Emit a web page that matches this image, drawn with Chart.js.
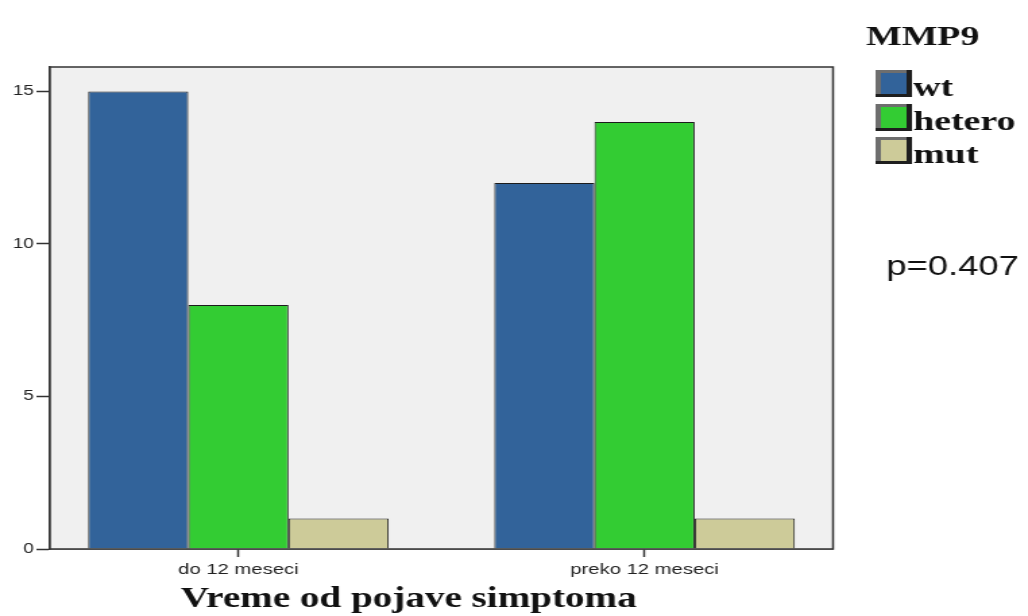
<!DOCTYPE html>
<html>
<head>
<meta charset="utf-8">
<script src="https://cdn.jsdelivr.net/npm/chart.js@4/dist/chart.umd.min.js"></script>
<style>
  html, body { margin: 0; padding: 0; background: #ffffff; overflow: hidden; }
  #wrap { width: 762px; height: 616px; transform: scaleX(1.349); transform-origin: 0 0; }
  #c { display: block; width: 762px; height: 616px; }
</style>
</head>
<body>
<div id="wrap"><canvas id="c" width="762" height="616"></canvas></div>
<script>
// Categories (time since symptom onset) and genotype counts
const categories = ['do 12 meseci', 'preko 12 meseci'];
const seriesNames = ['wt', 'hetero', 'mut'];
const wtValues = [15, 12];
const heteroValues = [8, 14];
const mutValues = [1, 1];
const yTicks = [0, 5, 10, 15];

const legendTitle = 'MMP9';
const axisTitle = 'Vreme od pojave simptoma';
const pValueText = 'p=0.407';

const colors = ['#32639a', '#33cc33', '#cdcb99'];
const edge = '#1c1c1c';

const toPoints = vals => vals.map((v, i) => ({ x: i, y: v }));

// Plot-area background and frame, plus legend, axis title and p-value
const decorations = {
  id: 'decorations',
  beforeDatasetsDraw(chart) {
    const { ctx, chartArea: a } = chart;
    ctx.save();
    ctx.fillStyle = '#f0f0f0';
    ctx.fillRect(a.left, a.top, a.right - a.left, a.bottom - a.top);
    ctx.restore();
  },
  afterDatasetsDraw(chart) {
    const { ctx, chartArea: a } = chart;
    ctx.save();
    ctx.strokeStyle = '#333333';
    ctx.lineWidth = 1.5;
    ctx.strokeRect(a.left, a.top, a.right - a.left, a.bottom - a.top);
    ctx.restore();
  },
  afterDraw(chart) {
    const { ctx } = chart;
    ctx.save();
    ctx.fillStyle = '#111111';
    ctx.textBaseline = 'alphabetic';

    // axis title
    ctx.font = 'bold 29px "Liberation Serif", "Times New Roman", serif';
    ctx.textAlign = 'center';
    ctx.fillText(axisTitle, 303, 607);

    // legend
    ctx.textAlign = 'left';
    ctx.font = 'bold 28px "Liberation Serif", "Times New Roman", serif';
    ctx.fillText(legendTitle, 642, 45);
    const boxX = 649, boxW = 27, boxH = 27;
    const rowTop = [70, 104, 137];
    chart.data.datasets.forEach((ds, i) => {
      const y = rowTop[i];
      ctx.fillStyle = '#6e6e6e';
      ctx.fillRect(boxX, y, boxW, boxH);
      ctx.fillStyle = '#1e1e1e';
      ctx.fillRect(boxX + boxW - 4, y, 4, boxH);
      ctx.fillRect(boxX, y + boxH - 3, boxW, 3);
      ctx.fillStyle = ds.backgroundColor;
      ctx.fillRect(boxX + 4, y + 3, boxW - 8, boxH - 6);
      ctx.fillStyle = '#111111';
      ctx.fillText(ds.label, boxX + boxW + 1, y + 26);
    });

    // p-value
    ctx.font = '27px "Liberation Sans", Arial, sans-serif';
    ctx.fillText(pValueText, 657, 275);
    ctx.restore();
  }
};

new Chart(document.getElementById('c'), {
  type: 'bar',
  data: {
    datasets: [
      { label: seriesNames[0], data: toPoints(wtValues), backgroundColor: colors[0] },
      { label: seriesNames[1], data: toPoints(heteroValues), backgroundColor: colors[1] },
      { label: seriesNames[2], data: toPoints(mutValues), backgroundColor: colors[2] }
    ]
  },
  options: {
    responsive: false,
    animation: false,
    devicePixelRatio: 1,
    layout: { padding: { left: 0, right: 144.5, top: 67, bottom: 0 } },
    datasets: {
      bar: {
        borderColor: edge,
        borderWidth: 1,
        categoryPercentage: 0.74,
        barPercentage: 1
      }
    },
    plugins: { legend: { display: false }, tooltip: { enabled: false } },
    scales: {
      x: {
        type: 'linear',
        offset: false,
        min: -0.464,
        max: 1.464,
        afterBuildTicks: s => { s.ticks = categories.map((_, i) => ({ value: i })); },
        afterFit: s => { s.height = 67; },
        ticks: {
          callback: v => categories[v] ?? '',
          autoSkip: false,
          maxRotation: 0,
          padding: 4,
          color: '#222222',
          font: { family: '"Liberation Sans", Arial, sans-serif', size: 15 }
        },
        grid: { offset: false, drawOnChartArea: false, drawTicks: true, tickLength: 8, tickColor: '#333333', tickWidth: 1.5 },
        border: { display: true, color: '#333333', width: 1.5 }
      },
      y: {
        min: 0,
        max: 15.8,
        afterBuildTicks: s => { s.ticks = yTicks.map(v => ({ value: v })); },
        afterFit: s => { s.width = 37; },
        ticks: {
          padding: 2,
          color: '#222222',
          font: { family: '"Liberation Sans", Arial, sans-serif', size: 14 }
        },
        grid: { drawOnChartArea: false, drawTicks: true, tickLength: 10, tickColor: '#333333', tickWidth: 1.5 },
        border: { display: true, color: '#333333', width: 1.5 }
      }
    }
  },
  plugins: [decorations]
});
</script>
</body>
</html>
